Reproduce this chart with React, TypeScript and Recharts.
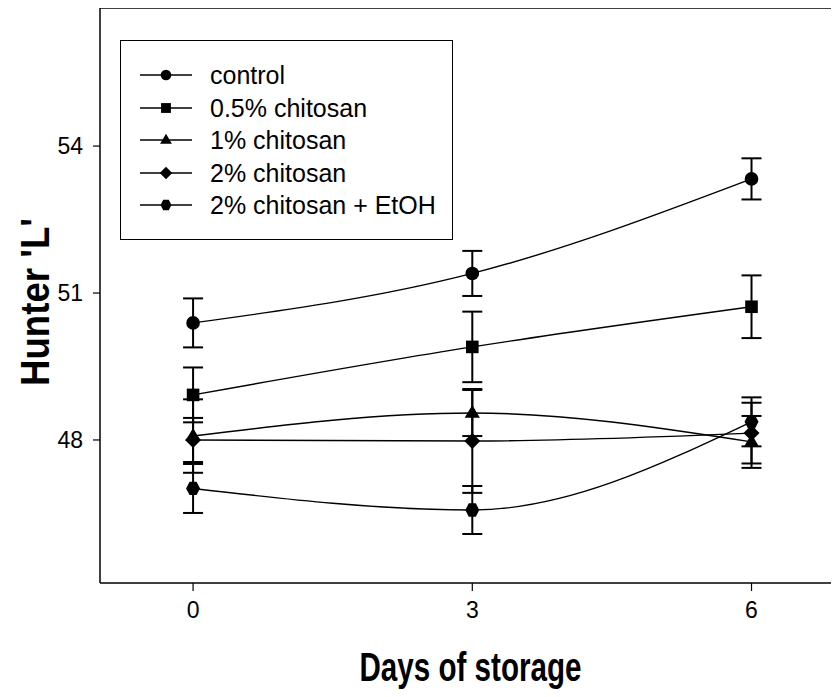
import React from 'react';
import { LineChart, Line, XAxis, YAxis, ErrorBar, Legend, Label, ReferenceLine } from 'recharts';

// Storage days on the x axis
const days = [0, 3, 6];

// Mean Hunter L values and their standard errors per treatment
const control = [50.39, 51.4, 53.33];
const controlErr = [0.5, 0.46, 0.42];
const chitosan05 = [48.92, 49.9, 50.72];
const chitosan05Err = [0.56, 0.72, 0.64];
const chitosan1 = [48.08, 48.55, 47.96];
const chitosan1Err = [0.75, 0.47, 0.53];
const chitosan2 = [48.0, 47.98, 48.14];
const chitosan2Err = [0.45, 1.06, 0.62];
const chitosanEtOH = [47.01, 46.57, 48.37];
const chitosanEtOHErr = [0.5, 0.49, 0.5];

const xTicks = [0, 3, 6];
const yTicks = [48, 51, 54];
const xDomain = [-1, 6.94];
const yDomain = [45.08, 56.88];
// value at which the top edge of the plot frame is drawn
const frameTop = 56.82;

const seriesNames = ['control', '0.5% chitosan', '1% chitosan', '2% chitosan', '2% chitosan + EtOH'];
const seriesKeys = ['control', 'c05', 'c1', 'c2', 'cEtOH'];
const seriesShapes = ['circle', 'square', 'triangle', 'diamond', 'hexagon'];

const data = days.map((d, i) => ({
  day: d,
  control: control[i],
  controlErr: controlErr[i],
  c05: chitosan05[i],
  c05Err: chitosan05Err[i],
  c1: chitosan1[i],
  c1Err: chitosan1Err[i],
  c2: chitosan2[i],
  c2Err: chitosan2Err[i],
  cEtOH: chitosanEtOH[i],
  cEtOHErr: chitosanEtOHErr[i],
}));

const FONT = 'Arial, "Liberation Sans", Helvetica, sans-serif';

function Marker({ shape, cx, cy, s }: { shape: string; cx: number; cy: number; s: number }) {
  if (cx == null || cy == null) return null;
  switch (shape) {
    case 'circle':
      return <circle cx={cx} cy={cy} r={6.8 * s} fill="#000" />;
    case 'square':
      return <rect x={cx - 6.3 * s} y={cy - 6.3 * s} width={12.6 * s} height={12.6 * s} fill="#000" />;
    case 'triangle': {
      const r = 8 * s;
      return (
        <polygon
          points={`${cx},${cy - r} ${cx + r * 0.95},${cy + r * 0.6} ${cx - r * 0.95},${cy + r * 0.6}`}
          fill="#000"
        />
      );
    }
    case 'diamond': {
      const r = 8 * s;
      return <polygon points={`${cx},${cy - r} ${cx + r},${cy} ${cx},${cy + r} ${cx - r},${cy}`} fill="#000" />;
    }
    case 'hexagon': {
      const r = 7 * s;
      const h = r * 0.95;
      return (
        <polygon
          points={`${cx - r},${cy} ${cx - r * 0.5},${cy - h} ${cx + r * 0.5},${cy - h} ${cx + r},${cy} ${cx + r * 0.5},${cy + h} ${cx - r * 0.5},${cy + h}`}
          fill="#000"
        />
      );
    }
    default:
      return null;
  }
}

const renderLegend = () => (
  <div
    style={{
      border: '1.5px solid #000',
      background: '#fff',
      width: 333,
      height: 200,
      boxSizing: 'border-box',
      paddingTop: 18,
      paddingLeft: 19,
      fontFamily: FONT,
      fontSize: 25,
      color: '#000',
    }}
  >
    {seriesNames.map((name, i) => (
      <div key={name} style={{ display: 'flex', alignItems: 'center', height: 32.5 }}>
        <svg width={52} height={20} style={{ display: 'block' }}>
          <line x1={0} x2={52} y1={10} y2={10} stroke="#000" strokeWidth={1.3} />
          <Marker shape={seriesShapes[i]} cx={26} cy={10} s={0.78} />
        </svg>
        <span style={{ marginLeft: 18, lineHeight: '32px', whiteSpace: 'nowrap' }}>{name}</span>
      </div>
    ))}
  </div>
);

const XTitle = (props: any) => {
  const vb = props.viewBox || {};
  const cx = vb.x + vb.width * 0.5 + 1;
  return (
    <text
      x={cx}
      y={vb.y + 98}
      textAnchor="middle"
      fontFamily={FONT}
      fontWeight="bold"
      fontSize={40}
      fill="#000"
      textLength={222}
      lengthAdjust="spacingAndGlyphs"
    >
      Days of storage
    </text>
  );
};

const YTitle = (props: any) => {
  const vb = props.viewBox || {};
  const x = 49;
  const y = vb.y + 297;
  return (
    <text
      x={x}
      y={y}
      transform={`rotate(-90, ${x}, ${y})`}
      textAnchor="middle"
      fontFamily={FONT}
      fontWeight="bold"
      fontSize={40}
      fill="#000"
      textLength={168}
      lengthAdjust="spacingAndGlyphs"
    >
      Hunter 'L'
    </text>
  );
};

export default function App() {
  return (
    <div style={{ position: 'relative', left: -8, top: -8, width: 839, height: 697, background: '#fff' }}>
      <LineChart
        width={839}
        height={697}
        data={data}
        margin={{ top: 5, right: 0, bottom: 0, left: 0 }}
      >
        <XAxis
          dataKey="day"
          type="number"
          domain={xDomain}
          allowDataOverflow
          ticks={xTicks}
          height={114}
          tickSize={8}
          tickMargin={11}
          axisLine={{ stroke: '#000', strokeWidth: 1.5 }}
          tickLine={{ stroke: '#000', strokeWidth: 1.2 }}
          tick={{ fill: '#000', fontFamily: FONT, fontSize: 23 }}
        >
          <Label content={<XTitle />} />
        </XAxis>
        <YAxis
          type="number"
          domain={yDomain}
          allowDataOverflow
          ticks={yTicks}
          width={100}
          tickSize={7}
          tickMargin={10}
          axisLine={{ stroke: '#000', strokeWidth: 1.5 }}
          tickLine={{ stroke: '#000', strokeWidth: 1.2 }}
          tick={{ fill: '#000', fontFamily: FONT, fontSize: 23 }}
        >
          <Label content={<YTitle />} />
        </YAxis>
        {/* top edge of the plot frame */}
        <ReferenceLine y={frameTop} stroke="#000" strokeWidth={1.6} />
        <Legend
          content={renderLegend}
          layout="horizontal"
          verticalAlign="middle"
          align="center"
          wrapperStyle={{ position: 'absolute', left: 120, top: 40, width: 333, height: 200 }}
        />
        {seriesKeys.map((key, i) => (
          <Line
            key={key}
            dataKey={key}
            name={seriesNames[i]}
            type="monotone"
            stroke="#000"
            strokeWidth={1.4}
            isAnimationActive={false}
            dot={(p: any) => <Marker key={`${key}-${p.index}`} shape={seriesShapes[i]} cx={p.cx} cy={p.cy} s={1} />}
            activeDot={false}
          >
            <ErrorBar dataKey={`${key}Err`} width={10} stroke="#000" strokeWidth={2} direction="y" />
          </Line>
        ))}
      </LineChart>
    </div>
  );
}
